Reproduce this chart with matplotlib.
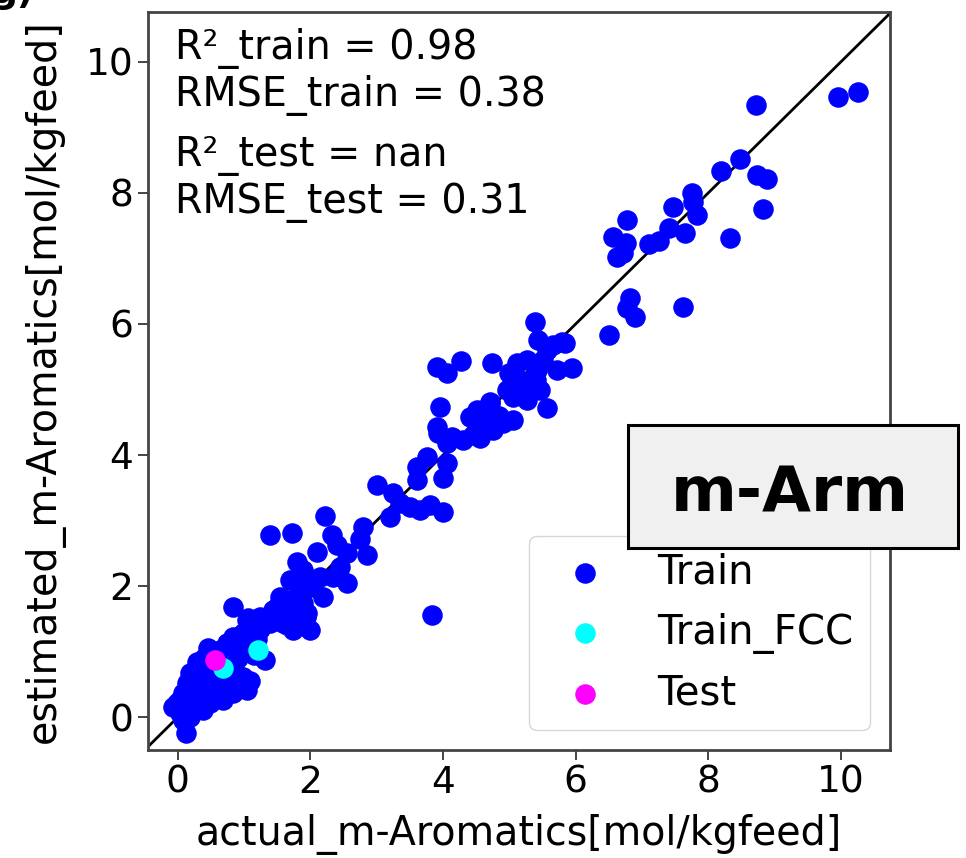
# parity plot: estimated vs actual m-Aromatics
import numpy as np
import matplotlib.pyplot as plt
from matplotlib.patches import Rectangle

# training set (actual, estimated)
train_actual = [10.26, 9.95, 8.72, 8.48, 8.19, 8.73, 8.88, 8.82, 8.33, 7.75, 7.77, 7.83, 7.47, 7.65,
                7.41, 7.25, 7.10, 6.77, 6.56, 6.76, 6.62, 6.71, 6.82, 6.77, 6.89, 7.62, 6.50, 5.84,
                5.38, 5.43, 5.79, 5.66, 5.57, 5.94, 5.72, 5.51, 5.41, 5.26, 5.11, 5.16, 5.04, 4.96,
                5.34, 5.05, 5.26, 5.46, 5.57, 5.05, 4.90, 4.75, 4.74, 4.71, 4.51, 4.40, 4.55, 4.55,
                4.30, 4.13, 4.45, 5.40, 5.25, 5.00, 4.85, 4.86, 4.60, 4.71,
                3.91, 4.06, 4.27, 3.95, 3.91, 3.92, 3.76, 3.60, 4.06, 4.00, 3.60, 3.00, 3.24, 3.35,
                3.20, 3.50, 3.65, 3.80, 4.00, 4.06, 3.83,
                2.22, 2.79, 2.74, 2.33, 1.39, 1.72, 2.10, 2.40, 2.55, 2.86, 1.80, 1.89, 2.14, 2.44,
                2.34, 2.55, 1.69, 1.84, 2.04, 2.19, 1.54, 1.65, 1.89, 1.43, 1.24, 1.69, 1.94, 1.99,
                0.83, 1.04, 1.13, 1.39, 1.64, 1.73, 1.58,
                1.06, 1.19, 1.49, 1.69, 1.84, 1.95, 1.24, 0.83, 0.98, 0.74, 0.63, 1.31, 0.29, 0.18,
                0.14, 0.08, -0.02, 0.03, 0.38, 0.48, 0.59, 0.83, 0.98, 1.04, 0.83, 0.68, 0.48, 0.38,
                0.23, 0.18, 0.08, 0.12, -0.08, 0.03, 0.23, 0.63, 0.94, 0.78, 0.40, 0.50, 0.90, 1.00,
                0.30, 0.55, 0.70, 0.85, 1.15, 0.20, 0.45, 1.20, 1.09]
train_est = [9.54, 9.47, 9.34, 8.52, 8.34, 8.27, 8.21, 7.76, 7.31, 8.00, 7.86, 7.66, 7.79, 7.39,
             7.47, 7.27, 7.22, 7.59, 7.33, 7.24, 7.02, 7.08, 6.40, 6.24, 6.11, 6.26, 5.83, 5.71,
             6.03, 5.76, 5.73, 5.68, 5.60, 5.33, 5.30, 5.45, 5.30, 5.45, 5.40, 5.15, 5.10, 4.99,
             5.04, 4.89, 4.84, 4.99, 4.72, 4.53, 4.49, 4.38, 5.40, 4.79, 4.69, 4.58, 4.43, 4.26,
             4.23, 4.27, 4.31, 5.15, 4.95, 5.25, 4.60, 4.53, 4.53, 4.81,
             5.34, 5.25, 5.44, 4.73, 4.43, 4.34, 3.97, 3.82, 3.88, 3.65, 3.62, 3.54, 3.42, 3.27,
             3.05, 3.20, 3.16, 3.24, 3.13, 4.18, 1.56,
             3.07, 2.90, 2.72, 2.78, 2.78, 2.81, 2.52, 2.63, 2.50, 2.47, 2.37, 2.25, 2.14, 2.29,
             2.14, 2.05, 2.09, 1.98, 1.98, 1.83, 1.83, 1.74, 1.74, 1.63, 1.53, 1.59, 1.53, 1.33,
             1.68, 1.48, 1.40, 1.43, 1.40, 1.33, 1.44,
             1.52, 1.45, 1.68, 1.79, 1.45, 1.59, 1.34, 1.22, 1.28, 1.13, 1.02, 0.87, 0.84, 0.67,
             0.52, 0.37, 0.21, 0.06, 0.61, 0.46, 0.61, 0.56, 0.61, 0.41, 0.37, 0.26, 0.21, 0.11,
             0.15, 0.00, -0.05, -0.24, 0.15, 0.26, 0.56, 0.46, 0.56, 0.46, 0.90, 0.75, 0.90, 1.05,
             0.35, 0.35, 0.70, 0.80, 0.95, 0.40, 1.05, 1.20, 0.56]

fcc_actual = [1.21, 0.68]
fcc_est = [1.02, 0.75]

test_actual = [0.56]
test_est = [0.87]

fig = plt.figure(figsize=(9.66, 8.58), dpi=100)
ax = fig.add_axes([0.1532, 0.1259, 0.7681, 0.8601])

ax.plot([-1, 12], [-1, 12], color='black', lw=2, zorder=1)
ax.scatter(train_actual, train_est, s=190, color='blue', label='Train', zorder=2)
ax.scatter(fcc_actual, fcc_est, s=190, color='cyan', label='Train_FCC', zorder=3)
ax.scatter(test_actual, test_est, s=190, color='magenta', label='Test', zorder=4)
ax.set_xlim(-0.45, 10.74)
ax.set_ylim(-0.5, 10.76)

ax.set_xticks([0, 2, 4, 6, 8, 10])
ax.set_yticks([0, 2, 4, 6, 8, 10])
ax.tick_params(labelsize=27, length=7, width=1.4, color='#444444')
for sp in ax.spines.values():
    sp.set_linewidth(2)
    sp.set_color('#444444')

ax.set_xlabel('actual_m-Aromatics[mol/kgfeed]', fontsize=28.5, labelpad=10)
ax.set_ylabel('estimated_m-Aromatics[mol/kgfeed]', fontsize=28.5, labelpad=15)

ax.text(0.036, 0.979, 'R²_train = 0.98\nRMSE_train = 0.38', transform=ax.transAxes,
        va='top', ha='left', fontsize=28.5)
ax.text(0.036, 0.832, 'R²_test = nan\nRMSE_test = 0.31', transform=ax.transAxes,
        va='top', ha='left', fontsize=28.5)

ax.legend(loc='lower right', fontsize=29)

# component tag box, sticking out past the right spine
ax.add_patch(Rectangle((0.647, 0.2737), 0.4446, 0.1667, transform=ax.transAxes,
                       facecolor='#f0f0f0', edgecolor='black', lw=2.2, clip_on=False, zorder=10))
ax.text(0.865, 0.3225, 'm-Arm', transform=ax.transAxes, ha='center', va='baseline',
        fontsize=45.5, fontweight='bold', zorder=11)

fig.text(-0.009, 0.997, 'g)', fontsize=26, fontweight='bold', va='baseline', ha='left')

fig.savefig('out.png', dpi=100)
